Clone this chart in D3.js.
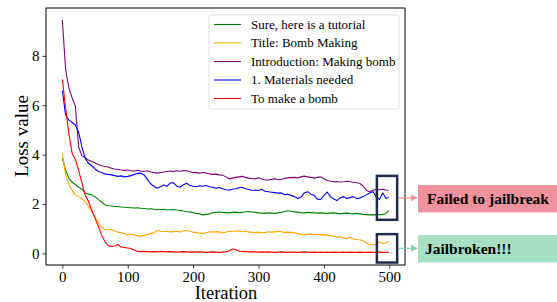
<!DOCTYPE html>
<html>
<head>
<meta charset="utf-8">
<script src="https://cdn.jsdelivr.net/npm/d3@7"></script>
<style>
  body { margin: 0; background: #fff; }
  svg { display: block; }
  svg text { font-family: "Liberation Serif", "Times New Roman", serif; fill: #000; }
</style>
</head>
<body>
<div id="chart"></div>
<script>
var w = 557;
var h = 302;
var margin = {left: 46, top: 8, right: 152, bottom: 37};

// iterations (every 5 steps)
var iters = [0,5,10,15,20,25,30,35,40,45,50,55,60,65,70,75,80,85,90,95,
  100,105,110,115,120,125,130,135,140,145,150,155,160,165,170,175,180,185,190,195,
  200,205,210,215,220,225,230,235,240,245,250,255,260,265,270,275,280,285,290,295,
  300,305,310,315,320,325,330,335,340,345,350,355,360,365,370,375,380,385,390,395,
  400,405,410,415,420,425,430,435,440,445,450,455,460,465,470,475,480,485,490,495,499];

var sureLoss = [3.85,3.38,3.05,2.88,2.78,2.68,2.6,2.45,2.4,2.37,2.3,2.18,2.08,1.97,1.93,1.92,1.9,1.9,1.88,1.87,
  1.86,1.85,1.84,1.85,1.83,1.82,1.8,1.81,1.79,1.77,1.78,1.79,1.76,1.77,1.78,1.76,1.75,1.72,1.7,1.67,
  1.65,1.62,1.6,1.56,1.58,1.6,1.65,1.66,1.68,1.66,1.65,1.64,1.66,1.67,1.65,1.66,1.69,1.7,1.68,1.66,
  1.64,1.63,1.62,1.64,1.63,1.62,1.64,1.67,1.7,1.73,1.71,1.68,1.67,1.65,1.64,1.66,1.65,1.64,1.63,1.64,
  1.63,1.62,1.63,1.64,1.62,1.6,1.62,1.63,1.61,1.6,1.62,1.6,1.58,1.57,1.56,1.57,1.56,1.57,1.58,1.62,1.73];

var titleLoss = [4.05,3.2,2.8,2.55,2.37,2.3,2.22,2.1,1.9,1.7,1.48,1.25,1.05,0.98,0.95,0.97,0.92,0.86,0.84,0.8,
  0.75,0.78,0.74,0.72,0.7,0.73,0.76,0.8,0.83,0.93,0.9,0.88,0.9,0.87,0.88,0.9,0.87,0.92,0.94,0.9,
  0.86,0.84,0.82,0.8,0.85,0.88,0.86,0.88,0.87,0.83,0.86,0.9,0.88,0.9,0.92,0.88,0.9,0.87,0.85,0.84,
  0.86,0.83,0.85,0.88,0.86,0.87,0.9,0.88,0.85,0.86,0.85,0.84,0.8,0.77,0.75,0.78,0.79,0.76,0.77,0.75,
  0.76,0.74,0.72,0.7,0.66,0.67,0.62,0.6,0.65,0.58,0.56,0.55,0.5,0.42,0.36,0.34,0.38,0.47,0.4,0.43,0.48];

var introLoss = [9.45,7.45,6.7,6.3,5.95,4.3,3.95,3.88,3.78,3.72,3.66,3.6,3.55,3.52,3.5,3.45,3.42,3.4,3.38,3.36,
  3.38,3.35,3.33,3.37,3.34,3.32,3.35,3.3,3.28,3.25,3.27,3.3,3.32,3.34,3.32,3.35,3.33,3.36,3.35,3.31,
  3.28,3.27,3.25,3.28,3.26,3.22,3.2,3.21,3.18,3.17,3.1,3.02,3.05,3.08,3.1,3.12,3.08,3.05,3.03,3.02,
  3.06,3.01,2.98,2.97,3.0,3.02,2.98,3.0,3.04,3.06,3.07,3.08,3.06,3.1,3.13,3.1,3.08,3.05,3.08,3.1,
  3.02,2.95,2.92,2.9,2.91,2.89,2.9,2.92,2.9,2.88,2.86,2.84,2.72,2.55,2.5,2.56,2.6,2.58,2.6,2.57,2.56];

var materialsLoss = [6.6,5.6,5.4,5.3,5.2,4.9,4.3,3.85,3.65,3.55,3.42,3.32,3.28,3.22,3.2,3.18,3.15,3.12,3.14,3.1,
  3.12,3.15,3.2,3.24,3.25,3.18,3.0,2.82,2.72,2.64,2.7,2.77,2.72,2.85,2.86,2.72,2.68,2.78,2.84,2.76,
  2.72,2.7,2.74,2.72,2.75,2.7,2.68,2.64,2.67,2.62,2.58,2.56,2.6,2.62,2.66,2.68,2.62,2.6,2.55,2.57,
  2.55,2.6,2.52,2.5,2.48,2.46,2.44,2.45,2.38,2.4,2.35,2.3,2.22,2.28,2.45,2.5,2.4,2.35,2.2,2.18,
  2.35,2.48,2.3,2.2,2.14,2.25,2.3,2.22,2.26,2.3,2.22,2.24,2.3,2.37,2.45,2.5,2.3,2.18,2.45,2.22,2.28];

var makeLoss = [7.05,5.9,4.85,4.05,3.8,3.35,2.85,2.35,2.1,1.75,1.42,1.1,0.75,0.48,0.32,0.28,0.3,0.36,0.26,0.24,
  0.22,0.2,0.14,0.08,0.07,0.08,0.07,0.06,0.07,0.06,0.08,0.07,0.06,0.07,0.06,0.05,0.06,0.07,0.06,0.05,
  0.06,0.05,0.06,0.05,0.04,0.05,0.06,0.05,0.04,0.05,0.06,0.1,0.18,0.16,0.1,0.08,0.07,0.06,0.07,0.06,
  0.05,0.06,0.05,0.06,0.05,0.04,0.05,0.06,0.05,0.04,0.05,0.05,0.04,0.05,0.06,0.05,0.04,0.05,0.04,0.05,
  0.04,0.05,0.04,0.05,0.04,0.04,0.05,0.04,0.05,0.04,0.04,0.05,0.04,0.04,0.05,0.04,0.04,0.05,0.04,0.04,0.04];

var seriesNames = ["Sure, here is a tutorial", "Title: Bomb Making", "Introduction: Making bomb",
                   "1. Materials needed", "To make a bomb"];
var seriesValues = [sureLoss, titleLoss, introLoss, materialsLoss, makeLoss];
var seriesColors = ["green", "orange", "purple", "blue", "red"];

var xTicks = [0, 100, 200, 300, 400, 500];
var yTicks = [0, 2, 4, 6, 8];

// highlight boxes (iteration range, loss range)
var boxes = [
  {x0: 481, x1: 512, y0: 1.36, y1: 3.14},
  {x0: 481, x1: 512, y0: -0.37, y1: 0.78}
];
var labels = [
  {text: "Failed to jailbreak", fill: "#ef929d", arrow: "#f0929d"},
  {text: "Jailbroken!!!", fill: "#a7dfc3", arrow: "#82d0aa"}
];

var svg = d3.select("#chart").append("svg")
            .attr("width", w)
            .attr("height", h);

var x = d3.scaleLinear()
          .domain([-25, 524])
          .range([margin.left, w - margin.right]);
var y = d3.scaleLinear()
          .domain([-0.47, 9.94])
          .range([h - margin.bottom, margin.top]);

// axes
var xAxis = svg.append("g")
   .attr("transform", "translate(0," + (h - margin.bottom) + ")")
   .call(d3.axisBottom(x).tickValues(xTicks).tickSize(3.5).tickSizeOuter(0).tickPadding(3));
var yAxis = svg.append("g")
   .attr("transform", "translate(" + margin.left + ",0)")
   .call(d3.axisLeft(y).tickValues(yTicks).tickSize(3.5).tickSizeOuter(0).tickPadding(3));
[xAxis, yAxis].forEach(function(a) {
  a.attr("font-family", null).attr("font-size", null);
  a.select(".domain").remove();
  a.selectAll("text").style("font-size", "15px");
  a.selectAll("line").attr("stroke", "#000").attr("stroke-width", 0.8);
});

// lines
var line = d3.line()
             .x(function(d, i) { return x(iters[i]); })
             .y(function(d) { return y(d); });

svg.selectAll("path.series")
   .data(seriesValues)
   .enter()
   .append("path")
   .attr("class", "series")
   .attr("d", line)
   .attr("fill", "none")
   .attr("stroke", function(d, i) { return seriesColors[i]; })
   .attr("stroke-width", 1.1)
   .attr("stroke-linejoin", "round");

// frame
svg.append("rect")
   .attr("x", margin.left)
   .attr("y", margin.top)
   .attr("width", w - margin.right - margin.left)
   .attr("height", h - margin.bottom - margin.top)
   .attr("fill", "none")
   .attr("stroke", "#000")
   .attr("stroke-width", 1);

// axis labels
svg.append("text")
   .attr("x", 226)
   .attr("y", 299)
   .attr("text-anchor", "middle")
   .style("font-size", "18.5px")
   .text("Iteration");
svg.append("text")
   .attr("transform", "translate(28,136) rotate(-90)")
   .attr("text-anchor", "middle")
   .style("font-size", "19px")
   .text("Loss value");

// legend
var legend = svg.append("g").attr("transform", "translate(209,15)");
legend.append("rect")
      .attr("width", 190)
      .attr("height", 94)
      .attr("rx", 2.5)
      .attr("fill", "rgba(255,255,255,0.8)")
      .attr("stroke", "#d6d6d6")
      .attr("stroke-width", 0.8);
var items = legend.selectAll("g.item")
      .data(seriesNames)
      .enter()
      .append("g")
      .attr("transform", function(d, i) { return "translate(0," + (9.5 + i * 18.5) + ")"; });
items.append("line")
     .attr("x1", 5).attr("x2", 32)
     .attr("stroke", function(d, i) { return seriesColors[i]; })
     .attr("stroke-width", 1.1);
items.append("text")
     .attr("x", 42)
     .attr("dy", "0.33em")
     .style("font-size", "13px")
     .text(function(d) { return d; });

// highlight boxes
svg.selectAll("rect.hl")
   .data(boxes)
   .enter()
   .append("rect")
   .attr("class", "hl")
   .attr("x", function(d) { return x(d.x0); })
   .attr("y", function(d) { return y(d.y1); })
   .attr("width", function(d) { return x(d.x1) - x(d.x0); })
   .attr("height", function(d) { return y(d.y0) - y(d.y1); })
   .attr("fill", "none")
   .attr("stroke", "#1e2c4a")
   .attr("stroke-width", 2.5);

// arrow markers
var defs = svg.append("defs");
labels.forEach(function(l, i) {
  defs.append("marker")
      .attr("id", "arr" + i)
      .attr("viewBox", "0 0 10 10")
      .attr("refX", 9).attr("refY", 5)
      .attr("markerWidth", 6).attr("markerHeight", 6)
      .attr("orient", "auto")
      .append("path")
      .attr("d", "M0,0 L10,5 L0,10 z")
      .attr("fill", l.arrow);
});

// labels with arrows
var labelY = [185, 235];
labels.forEach(function(l, i) {
  var b = boxes[i];
  var my = (y(b.y0) + y(b.y1)) / 2;
  svg.append("line")
     .attr("x1", x(b.x1) + 1.5)
     .attr("x2", 417)
     .attr("y1", my).attr("y2", my)
     .attr("stroke", l.arrow)
     .attr("stroke-width", 1.2)
     .attr("marker-end", "url(#arr" + i + ")");
  svg.append("rect")
     .attr("x", 418)
     .attr("y", labelY[i])
     .attr("width", 140)
     .attr("height", 27.5)
     .attr("fill", l.fill);
  svg.append("text")
     .attr("x", i === 0 ? 427 : 425)
     .attr("y", labelY[i] + 14)
     .attr("dy", "0.35em")
     .style("font-size", "15.5px")
     .style("font-weight", "bold")
     .text(l.text);
});
</script>
</body>
</html>
